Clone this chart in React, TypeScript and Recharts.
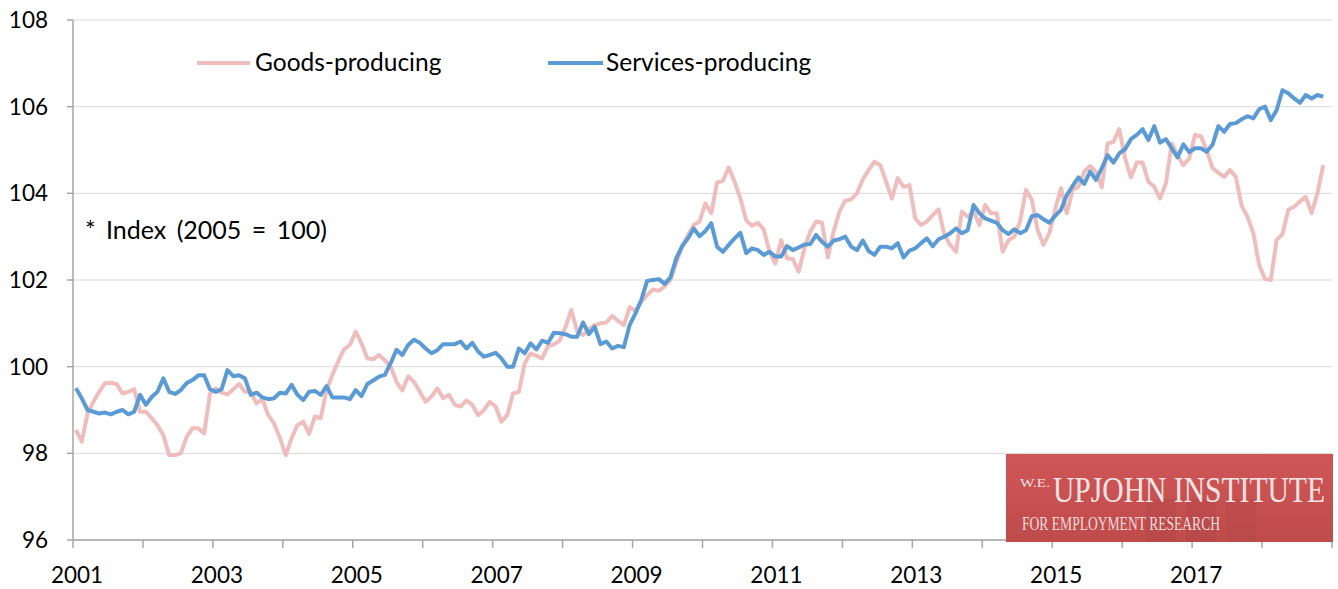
import { LineChart, Line, XAxis, YAxis, CartesianGrid, Legend } from 'recharts';

const startYear = 2001;

// monthly index values, Jan 2001 - Nov 2018 (2005 = 100)
const goods = [
  98.54, 98.27, 98.92, 99.19, 99.42, 99.62, 99.63, 99.6, 99.38, 99.42, 99.48, 98.96,
  98.96, 98.81, 98.65, 98.42, 97.96, 97.96, 98.0, 98.38, 98.58, 98.58, 98.46, 99.38,
  99.5, 99.4, 99.36, 99.48, 99.6, 99.42, 99.42, 99.15, 99.25, 98.88, 98.69, 98.35,
  97.96, 98.35, 98.65, 98.73, 98.45, 98.85, 98.81, 99.46, 99.81, 100.12, 100.4, 100.5,
  100.81, 100.54, 100.19, 100.17, 100.27, 100.15, 100.0, 99.65, 99.45, 99.78, 99.65, 99.42,
  99.19, 99.31, 99.5, 99.27, 99.35, 99.12, 99.08, 99.22, 99.12, 98.88, 99.0, 99.19,
  99.08, 98.73, 98.88, 99.38, 99.42, 100.08, 100.31, 100.25, 100.19, 100.48, 100.51, 100.6,
  100.92, 101.31, 100.81, 100.73, 100.86, 100.96, 101.0, 101.02, 101.17, 101.06, 100.96, 101.37,
  101.29, 101.5, 101.65, 101.78, 101.75, 101.85, 102.0, 102.4, 102.77, 103.04, 103.27, 103.35,
  103.77, 103.54, 104.25, 104.29, 104.6, 104.27, 103.88, 103.38, 103.25, 103.32, 103.17, 102.65,
  102.38, 102.92, 102.5, 102.48, 102.19, 102.73, 103.12, 103.35, 103.32, 102.52, 103.12, 103.58,
  103.83, 103.86, 104.0, 104.32, 104.54, 104.73, 104.65, 104.27, 103.88, 104.35, 104.15, 104.19,
  103.42, 103.27, 103.35, 103.5, 103.63, 103.04, 102.81, 102.65, 103.58, 103.46, 103.58, 103.27,
  103.73, 103.54, 103.54, 102.65, 102.92, 103.0, 103.36, 104.08, 103.85, 103.15, 102.81, 103.08,
  103.62, 104.12, 103.54, 104.08, 104.15, 104.5, 104.63, 104.5, 104.14, 105.15, 105.19, 105.48,
  104.81, 104.37, 104.71, 104.71, 104.27, 104.15, 103.88, 104.23, 105.15, 104.88, 104.65, 104.8,
  105.35, 105.32, 105.0, 104.58, 104.48, 104.38, 104.54, 104.38, 103.71, 103.46, 103.08, 102.35,
  102.02, 102.0, 102.92, 103.06, 103.62, 103.69, 103.81, 103.92, 103.54, 104.0, 104.65,
];

const services = [
  99.5, 99.27, 99.0, 98.96, 98.92, 98.94, 98.9, 98.96, 99.0, 98.9, 98.96, 99.35,
  99.12, 99.3, 99.42, 99.73, 99.42, 99.37, 99.46, 99.62, 99.69, 99.8, 99.8, 99.48,
  99.42, 99.48, 99.92, 99.78, 99.8, 99.73, 99.35, 99.4, 99.29, 99.25, 99.27, 99.4,
  99.38, 99.58, 99.35, 99.23, 99.42, 99.44, 99.35, 99.55, 99.29, 99.29, 99.29, 99.25,
  99.46, 99.32, 99.6, 99.68, 99.77, 99.81, 100.08, 100.39, 100.27, 100.5, 100.62, 100.55,
  100.42, 100.31, 100.38, 100.52, 100.52, 100.52, 100.58, 100.42, 100.55, 100.35, 100.23, 100.27,
  100.32, 100.19, 100.0, 100.0, 100.42, 100.31, 100.54, 100.4, 100.6, 100.55, 100.78, 100.77,
  100.75, 100.69, 100.69, 101.02, 100.75, 100.92, 100.52, 100.58, 100.42, 100.48, 100.45, 100.96,
  101.23, 101.54, 101.98, 102.0, 102.02, 101.91, 102.06, 102.5, 102.78, 102.96, 103.19, 103.01,
  103.13, 103.31, 102.77, 102.65, 102.81, 102.96, 103.09, 102.62, 102.73, 102.69, 102.58, 102.65,
  102.54, 102.54, 102.78, 102.69, 102.75, 102.82, 102.83, 103.04, 102.88, 102.77, 102.91, 102.94,
  103.0, 102.77, 102.69, 102.91, 102.67, 102.58, 102.77, 102.77, 102.73, 102.85, 102.52, 102.68,
  102.73, 102.85, 102.96, 102.78, 102.94, 103.0, 103.08, 103.19, 103.08, 103.15, 103.73, 103.54,
  103.42, 103.37, 103.32, 103.15, 103.06, 103.17, 103.08, 103.15, 103.47, 103.5, 103.4, 103.32,
  103.48, 103.62, 103.96, 104.17, 104.37, 104.22, 104.5, 104.31, 104.58, 104.88, 104.71, 104.92,
  105.02, 105.25, 105.35, 105.48, 105.23, 105.55, 105.17, 105.25, 105.04, 104.83, 105.13, 104.95,
  105.04, 105.04, 104.96, 105.12, 105.55, 105.42, 105.6, 105.62, 105.71, 105.78, 105.73, 105.94,
  106.0, 105.69, 105.92, 106.38, 106.31, 106.19, 106.09, 106.27, 106.19, 106.27, 106.23,
];

const yTicks = [96, 98, 100, 102, 104, 106, 108];
const yearTicks = [0, 12, 24, 36, 48, 60, 72, 84, 96, 108, 120, 132, 144, 156, 168, 180, 192, 204, 216];
const yearLabels = ['2001', '', '2003', '', '2005', '', '2007', '', '2009', '', '2011', '', '2013', '', '2015', '', '2017', '', ''];

const PINK = '#f0bdbd';
const BLUE = '#5b9bd5';
const FONT = 'Lato, "Open Sans", sans-serif';

const rows = goods.map((g, i) => ({ x: i + 0.5, goods: g, services: services[i] }));

const YearTick = (props: any) => {
  const { x, y, payload } = props;
  const label = yearLabels[yearTicks.indexOf(payload.value)] || '';
  return (
    <text x={x + 4} y={y + 35} textAnchor="middle" fill="#000" fontSize={22.5} fontFamily={FONT}>
      {label}
    </text>
  );
};

const LegendBox = () => (
  <div style={{ position: 'relative', width: 650, height: 30, fontFamily: FONT, fontSize: 24.5, lineHeight: '30px', color: '#000' }}>
    <svg style={{ position: 'absolute', left: 0, top: 13 }} width={53} height={4}>
      <line x1={0} y1={2} x2={53} y2={2} stroke={PINK} strokeWidth={4} />
    </svg>
    <span style={{ position: 'absolute', left: 58, top: -1, whiteSpace: 'nowrap' }}>Goods-producing</span>
    <svg style={{ position: 'absolute', left: 351, top: 13 }} width={55} height={4}>
      <line x1={0} y1={2} x2={55} y2={2} stroke={BLUE} strokeWidth={4} />
    </svg>
    <span style={{ position: 'absolute', left: 409, top: -1, whiteSpace: 'nowrap' }}>Services-producing</span>
  </div>
);

const Logo = () => (
  <svg width={327} height={88} style={{ position: 'absolute', left: 1006, top: 454 }}>
    <defs>
      <linearGradient id="logoBg" x1="0" y1="0" x2="0" y2="1">
        <stop offset="0%" stopColor="#d05656" />
        <stop offset="100%" stopColor="#bf4b4b" />
      </linearGradient>
    </defs>
    <rect x={0} y={0} width={327} height={88} fill="url(#logoBg)" />
    <rect x={140} y={45} width={30} height={43} fill="#b04444" opacity={0.35} />
    <rect x={180} y={45} width={30} height={43} fill="#b04444" opacity={0.35} />
    <rect x={220} y={45} width={30} height={43} fill="#b04444" opacity={0.3} />
    <text x={14} y={33} fill="#f6e4e4" fontFamily='"Liberation Serif", serif' fontSize={13} textLength={30} lengthAdjust="spacingAndGlyphs">W.E.</text>
    <text transform="translate(47,48) scale(1,1.22)" x={0} y={0} fill="#f6e4e4" fontFamily='"Liberation Serif", serif' fontSize={30} textLength={272} lengthAdjust="spacingAndGlyphs">UPJOHN INSTITUTE</text>
    <text x={16} y={76} fill="#f0dcdc" fontFamily='"Liberation Serif", serif' fontSize={18} textLength={198} lengthAdjust="spacingAndGlyphs">FOR EMPLOYMENT RESEARCH</text>
  </svg>
);

export default function App() {
  return (
    <div style={{ position: 'absolute', left: 0, top: 0, width: 1338, height: 589, background: '#fff', fontFamily: FONT }}>
      <LineChart width={1338} height={589} data={rows} margin={{ top: 20, right: 6, bottom: 0, left: 0 }}>
        <CartesianGrid vertical={false} stroke="#d9d9d9" strokeWidth={1} />
        <XAxis
          dataKey="x"
          type="number"
          domain={[0, 216]}
          ticks={yearTicks}
          interval={0}
          height={49}
          tickSize={8}
          tickMargin={0}
          axisLine={{ stroke: '#a6a6a6', strokeWidth: 1.5 }}
          tickLine={{ stroke: '#a6a6a6', strokeWidth: 1.5 }}
          tick={<YearTick />}
        />
        <YAxis
          domain={[96, 108]}
          ticks={yTicks}
          interval={0}
          width={73}
          tickSize={6}
          tickMargin={19}
          axisLine={{ stroke: '#a6a6a6', strokeWidth: 1.5 }}
          tickLine={{ stroke: '#a6a6a6', strokeWidth: 1.5 }}
          tick={{ fill: '#000', fontSize: 22.5, fontFamily: FONT }}
        />
        <Legend
          layout="vertical"
          align="center"
          verticalAlign="middle"
          content={<LegendBox />}
          wrapperStyle={{ left: 197, top: 48, width: 650, height: 30 }}
        />
        <Line
          type="linear"
          dataKey="goods"
          name="Goods-producing"
          stroke={PINK}
          strokeWidth={4}
          dot={false}
          strokeLinejoin="round"
          isAnimationActive={false}
        />
        <Line
          type="linear"
          dataKey="services"
          name="Services-producing"
          stroke={BLUE}
          strokeWidth={4}
          dot={false}
          strokeLinejoin="round"
          isAnimationActive={false}
        />
      </LineChart>
      <div style={{ position: 'absolute', left: 85, top: 213, fontSize: 25, lineHeight: '32px', wordSpacing: 4, color: '#000', whiteSpace: 'nowrap' }}>
        * Index (2005 = 100)
      </div>
      <Logo />
    </div>
  );
}
